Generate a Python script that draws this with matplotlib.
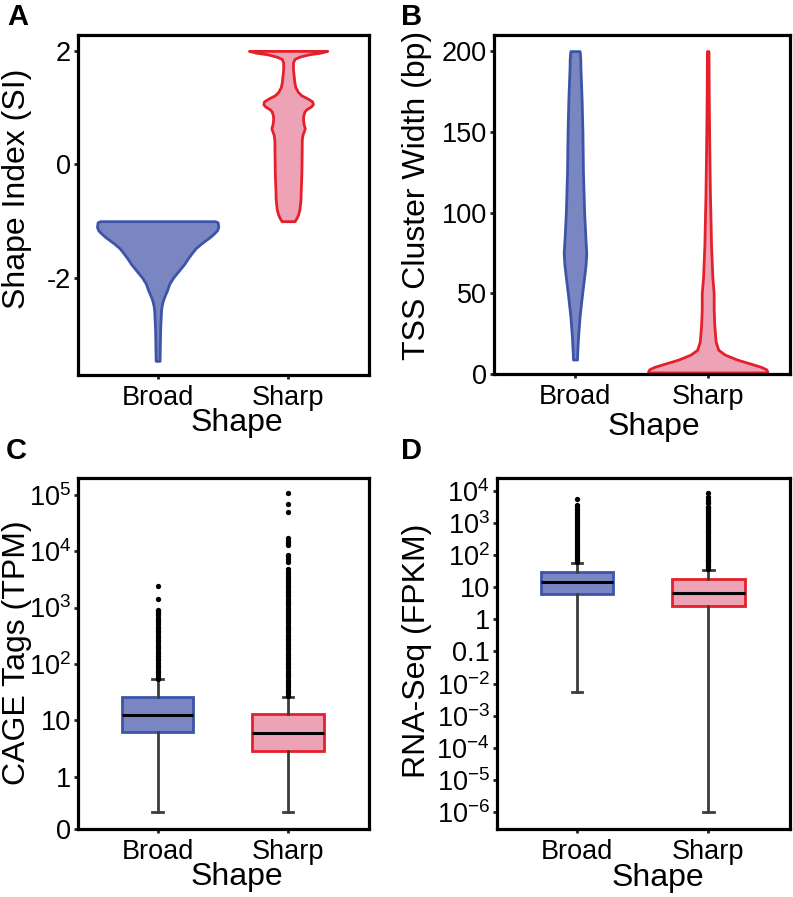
import numpy as np
import matplotlib
matplotlib.use('Agg')
import matplotlib.pyplot as plt

plt.rcParams['font.family'] = ['Liberation Sans', 'DejaVu Sans']
plt.rcParams['mathtext.fontset'] = 'custom'
plt.rcParams['mathtext.rm'] = 'Liberation Sans'
plt.rcParams['axes.unicode_minus'] = False

categories = ['Broad', 'Sharp']

# --- panel A: shape index violins (level, half width) ---
si_broad_lvl = [-1.00, -1.02, -1.10, -1.16, -1.22, -1.28, -1.34, -1.40, -1.48, -1.58, -1.66,
                -1.75, -1.85, -1.99, -2.10, -2.23, -2.32, -2.40, -2.50, -2.58, -2.87, -3.20, -3.46]
si_broad_w = [0.44, 0.46, 0.465, 0.455, 0.43, 0.40, 0.365, 0.33, 0.29, 0.256, 0.23,
              0.205, 0.17, 0.12, 0.09, 0.07, 0.053, 0.04, 0.03, 0.026, 0.02, 0.017, 0.015]
si_sharp_lvl = [2.00, 1.97, 1.94, 1.90, 1.86, 1.80, 1.70, 1.60, 1.45, 1.36, 1.28, 1.22, 1.16,
                1.11, 1.06, 1.02, 0.97, 0.93, 0.85, 0.78, 0.70, 0.64, 0.58, 0.52, 0.43, 0.20,
                -0.15, -0.45, -0.62, -0.79, -0.88, -0.94, -0.98, -1.00]
si_sharp_w = [0.30, 0.25, 0.16, 0.09, 0.05, 0.038, 0.037, 0.041, 0.048, 0.056, 0.075, 0.10, 0.15,
              0.185, 0.19, 0.175, 0.14, 0.125, 0.115, 0.115, 0.12, 0.128, 0.12, 0.11, 0.105, 0.104,
              0.102, 0.097, 0.095, 0.087, 0.077, 0.065, 0.055, 0.05]

# --- panel B: TSS cluster width violins ---
tw_broad_lvl = [200, 195, 190, 170, 150, 125, 100, 85, 75, 68, 62, 50, 36, 23, 15, 9]
tw_broad_w = [0.035, 0.04, 0.041, 0.05, 0.056, 0.06, 0.069, 0.078, 0.085, 0.08, 0.072,
              0.054, 0.035, 0.023, 0.018, 0.015]
tw_sharp_lvl = [200, 170, 140, 110, 100, 80, 60, 50, 40, 30, 20, 15, 12, 9, 6.5, 4.5, 3, 1.5, 1]
tw_sharp_w = [0.006, 0.008, 0.012, 0.017, 0.02, 0.025, 0.035, 0.045, 0.045, 0.05, 0.06,
              0.08, 0.13, 0.22, 0.32, 0.40, 0.44, 0.45, 0.44]

# --- panel C: CAGE tags box stats ---
cage_stats = {
    'Broad': dict(whislo=0.233, q1=6.1, med=12.3, q3=26, whishi=53,
                  fliers=[55, 60, 66, 72, 79, 87, 95, 105, 115, 126, 138, 151, 166, 182, 200,
                          219, 240, 263, 288, 316, 347, 380, 417, 457, 501, 550, 603, 661, 724,
                          794, 870, 920, 1415, 2440]),
    'Sharp': dict(whislo=0.233, q1=2.9, med=6.0, q3=12.9, whishi=26,
                  fliers=[27, 30, 33, 36, 40, 44, 48, 52, 58, 63, 69, 76, 83, 91, 100, 110, 120,
                          132, 145, 158, 174, 191, 209, 229, 251, 275, 302, 331, 363, 398, 437,
                          479, 525, 575, 631, 692, 759, 832, 912, 1000, 1096, 1202, 1318, 1445,
                          1585, 1738, 1905, 2089, 2291, 2512, 2754, 3020, 3240, 3550, 3890,
                          4270, 4900, 6460, 7240, 8130, 8710, 12900, 14100, 15500, 17400,
                          49000, 69000, 110000]),
}
cage_ticks = [0.116, 1, 10, 100, 1e3, 1e4, 1e5]
cage_labels = ['0', '1', '10', '10$^{2}$', '10$^{3}$', '10$^{4}$', '10$^{5}$']

# --- panel D: RNA-Seq box stats ---
rna_stats = {
    'Broad': dict(whislo=0.0054, q1=6.1, med=14, q3=30, whishi=58,
                  fliers=[60, 69, 79, 91, 105, 120, 138, 158, 182, 209, 240, 275, 316, 363, 417,
                          479, 550, 631, 724, 832, 955, 1096, 1259, 1445, 1660, 1905, 2188, 2512,
                          2884, 3311, 3548, 5500]),
    'Sharp': dict(whislo=1e-6, q1=2.66, med=6.7, q3=18, whishi=34,
                  fliers=[36, 41, 48, 55, 63, 72, 83, 95, 110, 126, 145, 166, 191, 219, 251, 288,
                          331, 380, 437, 501, 575, 661, 759, 871, 1000, 1148, 1318, 1514, 1738,
                          1995, 2291, 2630, 3020, 3162, 4000, 4470, 5010, 6460, 8510]),
}
rna_ticks = [1e-6, 1e-5, 1e-4, 1e-3, 1e-2, 0.1, 1, 10, 100, 1e3, 1e4]
rna_labels = ['10$^{-6}$', '10$^{-5}$', '10$^{-4}$', '10$^{-3}$', '10$^{-2}$', '0.1', '1', '10',
              '10$^{2}$', '10$^{3}$', '10$^{4}$']

fills = {'Broad': '#7a86c2', 'Sharp': '#eda2b6'}
edges = {'Broad': '#3d54a8', 'Sharp': '#e4202b'}

fig = plt.figure(figsize=(7.93, 8.97), dpi=100)
axA = fig.add_axes([0.0984, 0.5819, 0.3669, 0.3791])
axB = fig.add_axes([0.623, 0.583, 0.3732, 0.378])
axC = fig.add_axes([0.0984, 0.0755, 0.3669, 0.3916])
axD = fig.add_axes([0.6264, 0.0755, 0.3698, 0.3913])

TICK_FS = 19.5
LABEL_FS = 23


def violin(ax, pos, lvl, w, cat):
    lvl = np.array(lvl)
    w = np.array(w)
    ax.fill_betweenx(lvl, pos - w, pos + w, facecolor=fills[cat], edgecolor=edges[cat],
                     linewidth=2.0, joinstyle='round')


def boxes(ax, stats):
    for i, cat in enumerate(categories):
        s = dict(stats[cat])
        ax.bxp([s], positions=[i], widths=0.55, capwidths=0.08, patch_artist=True,
               boxprops=dict(facecolor=fills[cat], edgecolor=edges[cat], linewidth=2.0),
               medianprops=dict(color='black', linewidth=2.2),
               whiskerprops=dict(color='#3c3c3c', linewidth=2.0),
               capprops=dict(color='#3c3c3c', linewidth=2.0),
               flierprops=dict(marker='o', markersize=2.8, markerfacecolor='black',
                               markeredgecolor='black', linestyle='none'))


def style(ax, xlab_xy, ylab, ylab_xy, letter, letter_xy):
    ax.set_xlim(-0.61, 1.62)
    ax.set_xticks([0, 1])
    ax.set_xticklabels(categories)
    for sp in ax.spines.values():
        sp.set_linewidth(2.3)
    ax.tick_params(axis='both', which='major', labelsize=TICK_FS, length=3, width=2,
                   pad=2, color='#222222')
    ax.tick_params(axis='x', pad=4)
    ax.tick_params(which='minor', length=0)
    ax.text(xlab_xy[0], xlab_xy[1], 'Shape', transform=ax.transAxes, ha='center',
            va='center', fontsize=LABEL_FS)
    ax.text(ylab_xy[0], ylab_xy[1], ylab, transform=ax.transAxes, ha='center',
            va='center', rotation=90, fontsize=LABEL_FS)
    fig.text(letter_xy[0], letter_xy[1], letter, fontsize=21, fontweight='bold',
             ha='left', va='top')


# A
violin(axA, 0, si_broad_lvl, si_broad_w, 'Broad')
violin(axA, 1, si_sharp_lvl, si_sharp_w, 'Sharp')
axA.set_ylim(-3.71, 2.28)
axA.set_yticks([-2, 0, 2])
axA.set_yticklabels(['-2', '0', '2'])
style(axA, (0.546, -0.141), 'Shape Index (SI)', (-0.21, 0.549), 'A', (0.009, 0.997))

# B
violin(axB, 0, tw_broad_lvl, tw_broad_w, 'Broad')
violin(axB, 1, tw_sharp_lvl, tw_sharp_w, 'Sharp')
axB.set_ylim(0, 210)
axB.set_yticks([0, 50, 100, 150, 200])
style(axB, (0.54, -0.156), 'TSS Cluster Width (bp)', (-0.26, 0.528), 'B', (0.506, 0.997))

# C
boxes(axC, cage_stats)
axC.set_yscale('log')
axC.set_ylim(0.116, 10 ** 5.3)
axC.set_yticks(cage_ticks)
axC.set_yticklabels(cage_labels)
style(axC, (0.546, -0.136), 'CAGE Tags (TPM)', (-0.21, 0.504), 'C', (0.007, 0.513))

# D
boxes(axD, rna_stats)
axD.set_yscale('log')
axD.set_ylim(10 ** -6.53, 10 ** 4.385)
axD.set_yticks(rna_ticks)
axD.set_yticklabels(rna_labels)
style(axD, (0.548, -0.139), 'RNA-Seq (FPKM)', (-0.272, 0.508), 'D', (0.506, 0.513))

for ax in (axC, axD):
    ax.set_xlim(-0.61, 1.62)

fig.savefig('out.png', dpi=100)
